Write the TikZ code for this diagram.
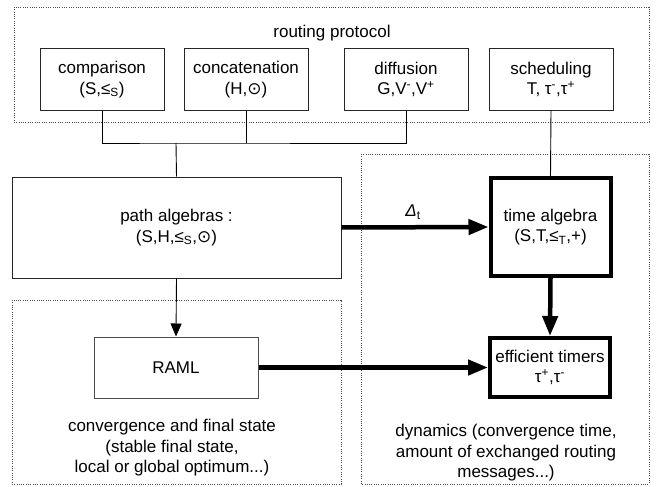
\documentclass[tikz,border=0pt]{standalone}
\usepackage{fontspec}
\setmainfont{Liberation Sans}
\newfontfamily\dejavu{DejaVu Sans}
\usepackage{tikz}
\usetikzlibrary{positioning,calc,arrows.meta}

\begin{document}
\begin{tikzpicture}[x=1pt, y=-1pt,
    font=\fontsize{17}{20.5}\selectfont,
    box/.style={draw=black!85, line width=1pt, fill=white, align=center,
        minimum width=124pt, minimum height=61pt, inner sep=0pt},
    thickbox/.style={draw=black, line width=4pt, fill=white, align=center,
        minimum width=120pt, minimum height=98pt, inner sep=0pt},
    frame/.style={draw=black!70, line width=0.8pt, dash pattern=on 1pt off 1.3pt},
    thinline/.style={draw=black, line width=0.9pt},
    bigarrow/.style={draw=black, line width=4.5pt, -{Triangle[length=20pt,width=15pt]}},
    smallarrow/.style={draw=black, line width=0.9pt, -{Triangle[length=13pt,width=11pt]}}]
    \useasboundingbox (0,0) rectangle (656,487);

    % Frames
    \draw[frame] (14,7) rectangle (649,122);
    \draw[frame] (12,300) rectangle (341,484);
    \draw[frame] (361,154) rectangle (649,484);
    \node (proto) at (332,33) {routing protocol};

    % Protocol components
    \node[box] (cmp) at (102,79.5) {comparison\\(S,≤\textsubscript{S})};
    \node[box] (cat) at (246,79.5) {concatenation\\(H,{\dejavu ⊙})};
    \node[box] (dif) at (406,79.5) {diffusion\\G,V\textsuperscript{-},V\textsuperscript{+}};
    \node[box] (sch) at (551,79.5) {scheduling\\T, τ\textsuperscript{-},τ\textsuperscript{+}};

    % Algebras
    \node[box, minimum width=329pt, minimum height=101pt] (path) at (176.5,227.5)
        {path algebras :\\(S,H,≤\textsubscript{S},{\dejavu ⊙})};
    \node[thickbox] (time) at (550.5,227) {time algebra\\(S,T,≤\textsubscript{T},+)};

    % Results
    \node[box, draw=black!70, minimum width=164pt] (raml) at (176,367.5) {RAML};
    \node[thickbox, minimum height=59pt] (eff) at (550,367.5)
        {efficient timers\\τ\textsuperscript{+},τ\textsuperscript{-}};
    \node[align=center] (conv) at (172,448)
        {convergence and final state\\(stable final state,\\local or global optimum...)};
    \node[align=center] (dyn) at (506,453)
        {dynamics (convergence time,\\amount of exchanged routing\\messages...)};

    % Connectors
    \coordinate (bus) at (176,143);
    \draw[thinline] (cmp.south) |- (bus) -| (dif.south);
    \draw[thinline] (cat.south) -- (cat.south |- bus);
    \draw[thinline] (bus) -- (path.north);
    \draw[thinline] (sch.south) -- (time.north);
    \draw[smallarrow] (path.south) -- (raml.north);
    \draw[bigarrow] (path.east) -- node[above=2pt, xshift=-2pt] (delta) {\textit{Δ}\textsubscript{t}} (time.west);
    \draw[bigarrow] (raml.east) -- (eff.west);
    \draw[bigarrow] (time.south) -- (eff.north);
\end{tikzpicture}
\end{document}
